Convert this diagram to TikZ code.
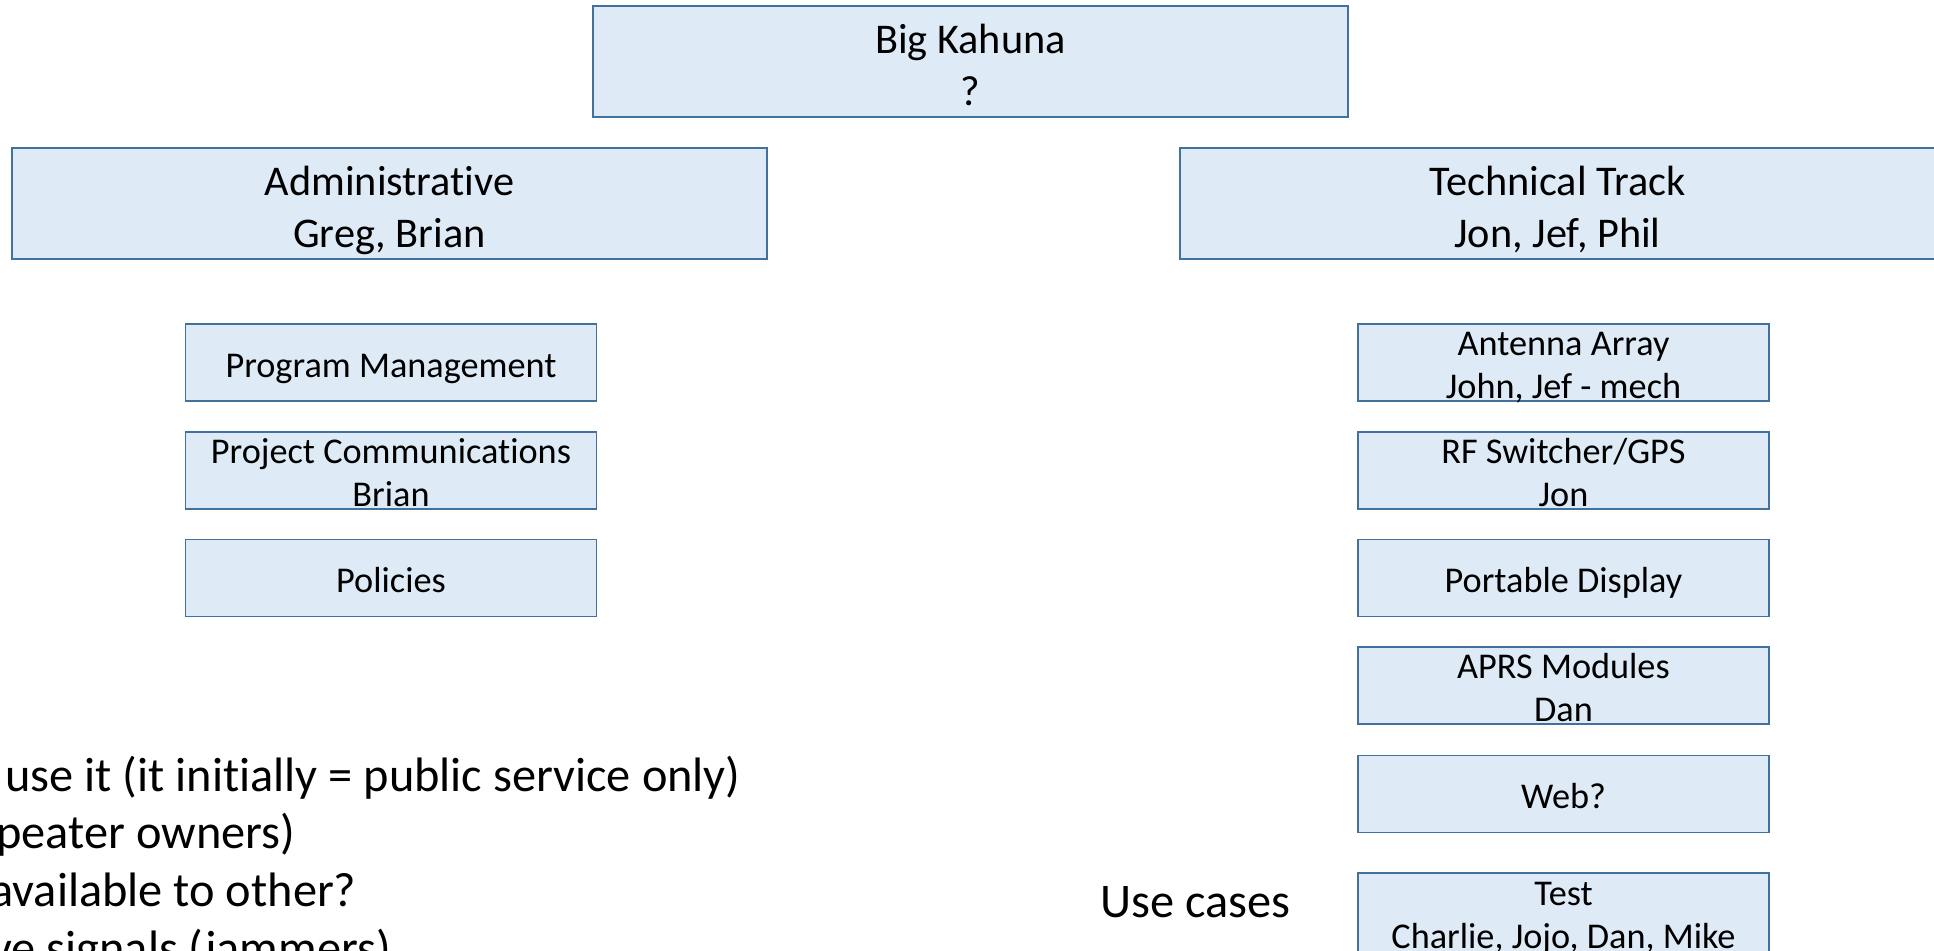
\documentclass[tikz,border=0pt]{standalone}
\usepackage{fontspec}
\setmainfont{Carlito}[Ligatures=NoCommon]
\definecolor{boxfill}{HTML}{DEEBF7}
\definecolor{boxline}{HTML}{41719C}
\newlength\pxu
\setlength\pxu{0.4964pt}
\newcommand\sst[1]{\rule[-2.5\pxu]{0pt}{34\pxu}\smash{#1}}
\newcommand\bst[1]{\rule[-9\pxu]{0pt}{54\pxu}\smash{#1}}
\tikzset{
  boxbase/.style={draw=boxline, fill=boxfill, line width=0.55pt, inner sep=0pt, align=center},
  smallbox/.style={boxbase, minimum width=411\pxu, minimum height=77\pxu,
    font={\fontsize{18}{21.35pt}\selectfont\lineskiplimit=-100pt}},
  bigbox/.style={boxbase, minimum width=755\pxu, minimum height=111\pxu,
    font={\fontsize{21}{25.32pt}\selectfont\lineskiplimit=-100pt}},
  note/.style={inner sep=0pt, anchor=base west, font=\fontsize{24}{28.5pt}\selectfont}
}
\begin{document}
\begin{tikzpicture}[x=0.4964pt, y=-0.4964pt]
\useasboundingbox (0,0) rectangle (1934,951);
\clip (0,0) rectangle (1934,951);
% top level
\node[bigbox] (kahuna) at (970.5,61.5) {\bst{Big Kahuna}\\\bst{?}};
\node[bigbox] (admin) at (389.5,203.5) {\bst{Administrative}\\\bst{Greg, Brian}};
\node[bigbox] (tech) at (1557.5,203.5) {\bst{Technical Track}\\\bst{Jon, Jef, Phil}};
% administrative items
\node[smallbox] (progmgmt) at (391,362.5) {\sst{Program Management}};
\node[smallbox] (projcomm) at (391,470.5) {\sst{Project Communications}\\\sst{Brian}};
\node[smallbox] (policies) at (391,578) {\sst{Policies}};
% technical items
\node[smallbox] (antenna) at (1563.5,362.5) {\sst{Antenna Array}\\\sst{John, Jef - mech}};
\node[smallbox] (rfswitch) at (1563.5,470.5) {\sst{RF Switcher/GPS}\\\sst{Jon}};
\node[smallbox] (display) at (1563.5,578) {\sst{Portable Display}};
\node[smallbox] (aprs) at (1563.5,685.5) {\sst{APRS Modules}\\\sst{Dan}};
\node[smallbox] (web) at (1563.5,794) {\sst{Web?}};
\node[smallbox, minimum height=79\pxu] (test) at (1563.5,912.5) {\sst{Test}\\\sst{Charlie, Jojo, Dan, Mike}};
% free text
\node[note] (usecases) at (1100,917) {Use cases};
\node[note] (note1) at (5,791) {use it (it initially = public service only)};
\node[note] (note2) at (-4,848) {peater owners)};
\node[note] (note3) at (-10,906) {available to other?};
\node[note] (note4) at (-10,964) {ve signals (jammers)};
\end{tikzpicture}
\end{document}
